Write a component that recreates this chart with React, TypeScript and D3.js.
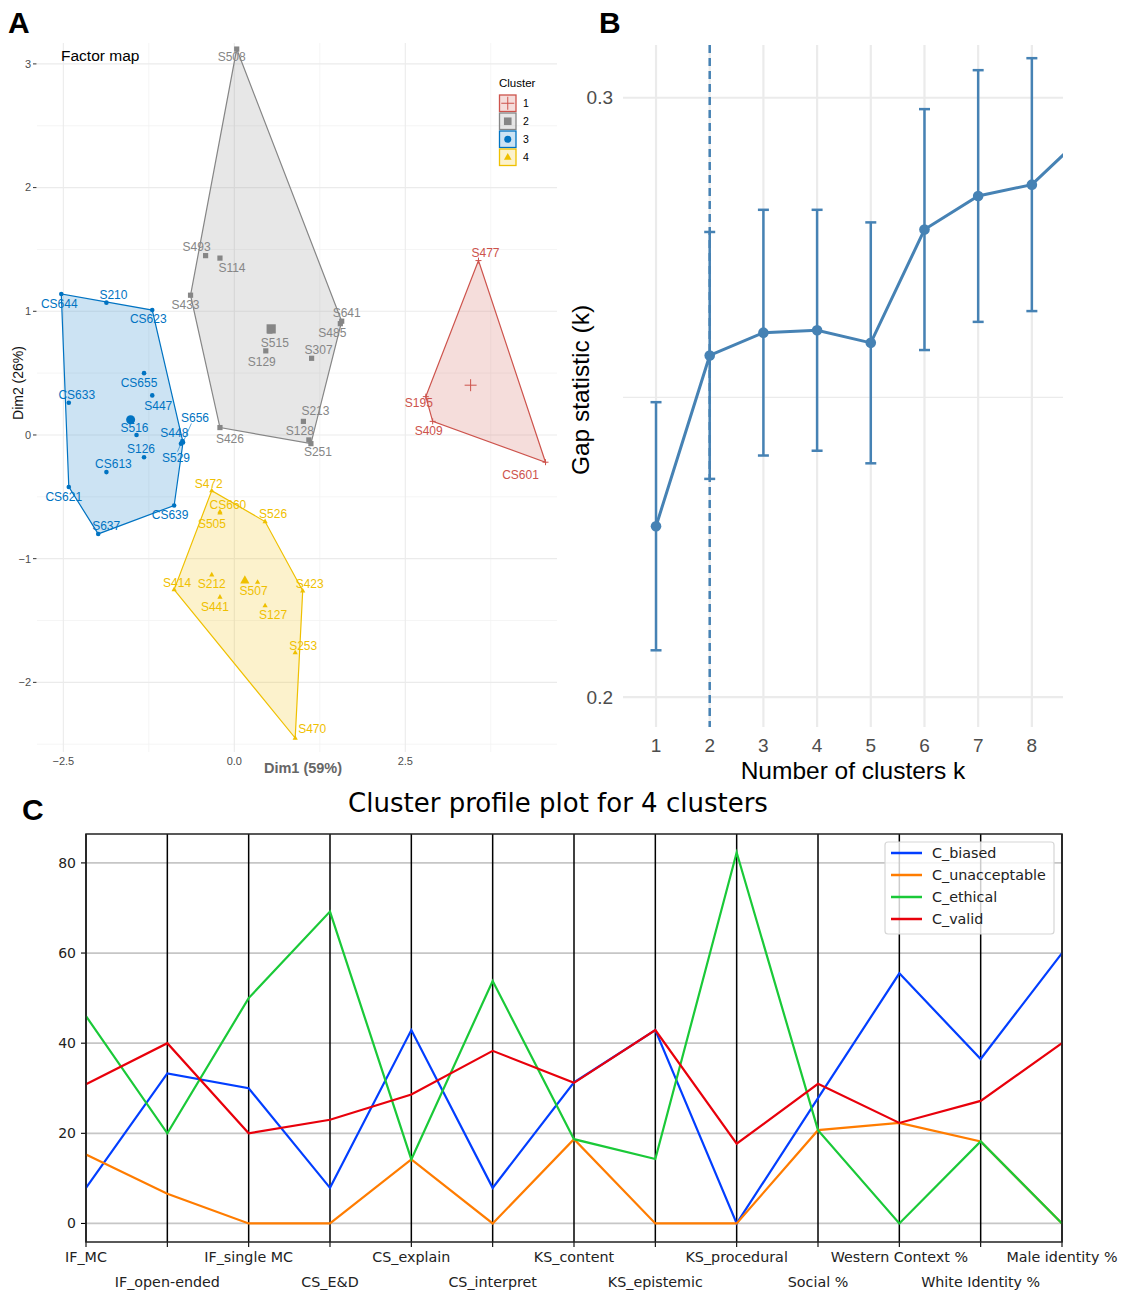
import React from 'react';
import * as d3 from 'd3';

// ---------- Panel A: factor map (PCA individuals, k-means clusters) ----------
const clusterIds = ['1', '2', '3', '4'];
const clusterColors = ['#CD534C', '#868686', '#0073C2', '#EFC000'];
const clusterShapes = ['plus', 'square', 'circle', 'triangle'];

const c1Names = ['S477', 'S195', 'S409', 'CS601'];
const c1Dim1 = [3.57, 2.80, 2.90, 4.55];
const c1Dim2 = [1.41, 0.31, 0.11, -0.22];

const c2Names = ['S508', 'S493', 'S114', 'S433', 'S641', 'S485', 'S515', 'S129', 'S307', 'S213', 'S128', 'S251', 'S426'];
const c2Dim1 = [0.035, -0.42, -0.21, -0.64, 1.57, 1.55, 0.52, 0.46, 1.13, 1.01, 1.09, 1.12, -0.21];
const c2Dim2 = [3.12, 1.45, 1.43, 1.13, 0.92, 0.90, 0.84, 0.68, 0.62, 0.11, -0.04, -0.07, 0.06];

const c3Names = ['CS644', 'S210', 'CS623', 'CS655', 'CS633', 'S447', 'S516', 'S126', 'S656', 'S448', 'S529', 'CS613', 'CS621', 'CS639', 'S637'];
const c3Dim1 = [-2.53, -1.87, -1.20, -1.32, -2.42, -1.20, -1.43, -1.32, -0.75, -0.76, -0.78, -1.87, -2.42, -0.88, -1.99];
const c3Dim2 = [1.14, 1.07, 1.01, 0.50, 0.26, 0.32, 0.00, -0.18, -0.06, -0.05, -0.07, -0.30, -0.42, -0.57, -0.80];

const c4Names = ['S472', 'CS660', 'S505', 'S526', 'S414', 'S212', 'S507', 'S441', 'S127', 'S423', 'S253', 'S470'];
const c4Dim1 = [-0.33, -0.21, -0.21, 0.45, -0.88, -0.33, 0.34, -0.21, 0.45, 1.00, 0.89, 0.89];
const c4Dim2 = [-0.45, -0.62, -0.63, -0.70, -1.25, -1.13, -1.19, -1.31, -1.38, -1.26, -1.76, -2.45];

const dim1Ticks = [-2.5, 0, 2.5];
const dim2Ticks = [-2, -1, 0, 1, 2, 3];

// label placement (pixel nudges from each point, as a repel step would give)
const labelNudge: Record<string, [number, number]> = {
  S477: [7, -8], S195: [-7, 6], S409: [-4, 9], CS601: [-25, 13],
  S508: [-5, 8], S493: [-9, -9], S114: [12, 10], S433: [-5, 10], S641: [5, -8], S485: [-8, 9],
  S515: [5, 12], S129: [-4, 11], S307: [7, -8], S213: [12, -11], S128: [-9, -9], S251: [7, 8], S426: [10, 11],
  CS644: [-2, 10], S210: [7, -8], CS623: [-4, 9], CS655: [-5, 10], CS633: [8, -8], S447: [6, 10],
  S516: [-2, -7], S126: [-3, -8], S656: [12, -25], S448: [-8, -8], S529: [-5, 14], CS613: [7, -8],
  CS621: [-5, 10], CS639: [-4, 9], S637: [8, -8],
  S472: [-3, -7], CS660: [8, -7], S505: [-8, 11], S526: [8, -8], S414: [3, -7], S212: [0, 9],
  S507: [-4, 9], S441: [-5, 10], S127: [8, 9], S423: [7, -7], S253: [8, -7], S470: [17, -9],
};
const leaderLabels = ['S656', 'S529'];

// ---------- Panel B: gap statistic ----------
const gapK = [1, 2, 3, 4, 5, 6, 7, 8, 9];
const gapValues = [0.2285, 0.2570, 0.2608, 0.2612, 0.2591, 0.2780, 0.2836, 0.2855, 0.2940];
const gapSE = [0.0207, 0.0206, 0.0205, 0.0201, 0.0201, 0.0201, 0.0210, 0.0211, 0.0215];
const optimalK = 2;
const gapYTicks = [0.2, 0.3];
const gapXTicks = [1, 2, 3, 4, 5, 6, 7, 8];

// ---------- Panel C: cluster profile (parallel coordinates) ----------
const profileVars = ['IF_MC', 'IF_open-ended', 'IF_single MC', 'CS_E&D', 'CS_explain', 'CS_interpret',
  'KS_content', 'KS_epistemic', 'KS_procedural', 'Social %', 'Western Context %', 'White Identity %', 'Male identity %'];
const profileNames = ['C_biased', 'C_unacceptable', 'C_ethical', 'C_valid'];
const profileColors = ['#023eff', '#ff7c00', '#1ac938', '#e8000b'];
const biased = [7.9, 33.3, 30.0, 7.9, 42.9, 7.9, 31.3, 42.9, 0, 27.8, 55.5, 36.5, 60.0];
const unacceptable = [15.3, 6.6, 0, 0, 14.2, 0, 18.7, 0, 0, 20.7, 22.3, 18.2, 0];
const ethical = [46.0, 20.0, 50.0, 69.2, 14.2, 53.8, 18.7, 14.3, 82.3, 20.7, 0, 18.2, 0];
const valid = [30.9, 40.0, 20.0, 23.0, 28.6, 38.3, 31.2, 42.9, 17.7, 31.0, 22.3, 27.2, 40.0];
const profileYTicks = [0, 20, 40, 60, 80];

const GG = "'Liberation Sans', Arial, Helvetica, sans-serif";
const MPL = "'DejaVu Sans', 'Bitstream Vera Sans', sans-serif";

function Marker({ shape, x, y, s, color }: { shape: string; x: number; y: number; s: number; color: string }) {
  if (shape === 'plus') {
    return <path d={`M${x - s},${y}H${x + s}M${x},${y - s}V${y + s}`} stroke={color} strokeWidth={1} fill="none" />;
  }
  if (shape === 'square') {
    return <rect x={x - s} y={y - s} width={2 * s} height={2 * s} fill={color} />;
  }
  if (shape === 'circle') {
    return <circle cx={x} cy={y} r={s} fill={color} />;
  }
  const h = s * 1.15;
  return <path d={`M${x},${y - h}L${x + s},${y + s * 0.65}L${x - s},${y + s * 0.65}Z`} fill={color} />;
}

function FactorMap() {
  const x = d3.scaleLinear().domain([-2.885, 4.718]).range([37, 557]);
  const y = d3.scaleLinear().domain([-2.563, 3.169]).range([752, 43]);
  const groups = [
    { names: c1Names, d1: c1Dim1, d2: c1Dim2 },
    { names: c2Names, d1: c2Dim1, d2: c2Dim2 },
    { names: c3Names, d1: c3Dim1, d2: c3Dim2 },
    { names: c4Names, d1: c4Dim1, d2: c4Dim2 },
  ];
  const minorX = [-1.25, 1.25, 3.75];
  const minorY = [-2.5, -1.5, -0.5, 0.5, 1.5, 2.5];
  const [x0, x1] = x.range();
  const [y0, y1] = y.range();

  return (
    <g fontFamily={GG}>
      {minorX.map((v) => <line key={'mx' + v} x1={x(v)} x2={x(v)} y1={y1} y2={y0} stroke="#f3f3f3" strokeWidth={0.8} />)}
      {minorY.map((v) => <line key={'my' + v} x1={x0} x2={x1} y1={y(v)} y2={y(v)} stroke="#f3f3f3" strokeWidth={0.8} />)}
      {dim1Ticks.map((v) => <line key={'gx' + v} x1={x(v)} x2={x(v)} y1={y1} y2={y0} stroke="#ebebeb" strokeWidth={1.1} />)}
      {dim2Ticks.map((v) => <line key={'gy' + v} x1={x0} x2={x1} y1={y(v)} y2={y(v)} stroke="#ebebeb" strokeWidth={1.1} />)}

      {dim2Ticks.map((v) => (
        <g key={'ty' + v}>
          <line x1={33} x2={36.5} y1={y(v)} y2={y(v)} stroke="#333" strokeWidth={1} />
          <text x={31} y={y(v)} dy="0.35em" textAnchor="end" fontSize={11} fill="#4d4d4d">{v === 0 ? '0' : String(v).replace('-', '\u2212')}</text>
        </g>
      ))}
      {dim1Ticks.map((v) => (
        <text key={'tx' + v} x={x(v)} y={761} dy="0.35em" textAnchor="middle" fontSize={11} fill="#4d4d4d">
          {d3.format('.1f')(v).replace('-', '\u2212')}
        </text>
      ))}
      <text x={303} y={768} dy="0.35em" textAnchor="middle" fontSize={14.5} fontWeight="bold" fill="#666">Dim1 (59%)</text>
      <text transform="translate(18,383) rotate(-90)" dy="0.35em" textAnchor="middle" fontSize={14} fill="#111">Dim2 (26%)</text>
      <text x={61} y={56} dy="0.35em" fontSize={15.5} fill="#000">Factor map</text>

      {groups.map((g, gi) => {
        const pts: [number, number][] = g.d1.map((v, i) => [x(v), y(g.d2[i])]);
        const hull = d3.polygonHull(pts) || pts;
        return (
          <path key={'hull' + gi} d={'M' + hull.map((p) => p.join(',')).join('L') + 'Z'}
            fill={clusterColors[gi]} fillOpacity={0.2} stroke={clusterColors[gi]} strokeWidth={1.2} />
        );
      })}

      {groups.map((g, gi) => {
        const col = clusterColors[gi];
        const shape = clusterShapes[gi];
        const cx = x(d3.mean(g.d1) as number);
        const cy = y(d3.mean(g.d2) as number);
        const small = shape === 'circle' ? 2.3 : shape === 'plus' ? 3 : 2.6;
        const big = shape === 'circle' ? 4.5 : shape === 'plus' ? 6 : 4.6;
        return (
          <g key={'pts' + gi}>
            {g.names.map((n, i) => {
              const px = x(g.d1[i]);
              const py = y(g.d2[i]);
              const [dx, dy] = labelNudge[n] || [0, -8];
              const lx = px + dx;
              const ly = py + dy;
              return (
                <g key={n}>
                  {leaderLabels.includes(n) && (
                    <line x1={px} y1={py} x2={lx - dx * 0.3} y2={ly + (dy < 0 ? 6 : -6)} stroke={col} strokeWidth={0.6} />
                  )}
                  <Marker shape={shape} x={px} y={py} s={small} color={col} />
                  <text x={lx} y={ly} dy="0.35em" textAnchor="middle" fontSize={12} fill={col}>{n}</text>
                </g>
              );
            })}
            <Marker shape={shape} x={cx} y={cy} s={big} color={col} />
          </g>
        );
      })}

      <text x={499} y={83} dy="0.35em" fontSize={11.5} fill="#000">Cluster</text>
      {clusterIds.map((id, i) => {
        const ky = 95 + i * 18;
        const col = clusterColors[i];
        return (
          <g key={'leg' + id}>
            <rect x={499.5} y={ky} width={16.5} height={16.5} fill={col} fillOpacity={0.2} stroke={col} strokeWidth={1.3} />
            <Marker shape={clusterShapes[i]} x={507.75} y={ky + 8.25} s={clusterShapes[i] === 'plus' ? 6.5 : clusterShapes[i] === 'circle' ? 3.5 : 3.8} color={col} />
            <text x={523} y={ky + 8.25} dy="0.35em" fontSize={10.5} fill="#000">{id}</text>
          </g>
        );
      })}
    </g>
  );
}

function GapPlot() {
  const x = d3.scaleLinear().domain([0.385, 8.58]).range([623, 1063]);
  const y = d3.scaleLinear().domain([0.195, 0.3088]).range([727, 45]);
  const steel = '#4682B4';
  const [x0, x1] = x.range();
  const [y0, y1] = y.range();
  const line = d3.line<number>().x((_, i) => x(gapK[i])).y((v) => y(v));
  return (
    <g fontFamily={GG}>
      <defs>
        <clipPath id="gap-clip"><rect x={x0} y={y1 - 2} width={x1 - x0} height={y0 - y1 + 4} /></clipPath>
      </defs>
      <line x1={x0} x2={x1} y1={y(0.25)} y2={y(0.25)} stroke="#ebebeb" strokeWidth={1.1} />
      {gapYTicks.map((v) => <line key={'gy' + v} x1={x0} x2={x1} y1={y(v)} y2={y(v)} stroke="#ebebeb" strokeWidth={2.2} />)}
      {gapXTicks.map((v) => <line key={'gx' + v} x1={x(v)} x2={x(v)} y1={y1} y2={y0} stroke="#ebebeb" strokeWidth={2.2} />)}
      {gapYTicks.map((v) => (
        <text key={'ty' + v} x={613} y={y(v)} dy="0.35em" textAnchor="end" fontSize={19} fill="#4d4d4d">{String(v)}</text>
      ))}
      {gapXTicks.map((v) => (
        <text key={'tx' + v} x={x(v)} y={745} dy="0.35em" textAnchor="middle" fontSize={19} fill="#4d4d4d">{v}</text>
      ))}
      <text x={853} y={770} dy="0.35em" textAnchor="middle" fontSize={24.5} fill="#000">Number of clusters k</text>
      <text transform="translate(580,390) rotate(-90)" dy="0.35em" textAnchor="middle" fontSize={24.5} fill="#000">Gap statistic (k)</text>
      <g clipPath="url(#gap-clip)">
        <line x1={x(optimalK)} x2={x(optimalK)} y1={y1} y2={y0} stroke={steel} strokeWidth={2.5} strokeDasharray="8,5" />
        {gapK.map((k, i) => (
          <g key={'eb' + k} stroke={steel} strokeWidth={2.5}>
            <line x1={x(k)} x2={x(k)} y1={y(gapValues[i] - gapSE[i])} y2={y(gapValues[i] + gapSE[i])} />
            <line x1={x(k) - 5.5} x2={x(k) + 5.5} y1={y(gapValues[i] - gapSE[i])} y2={y(gapValues[i] - gapSE[i])} />
            <line x1={x(k) - 5.5} x2={x(k) + 5.5} y1={y(gapValues[i] + gapSE[i])} y2={y(gapValues[i] + gapSE[i])} />
          </g>
        ))}
        <path d={line(gapValues) || ''} fill="none" stroke={steel} strokeWidth={3} />
        {gapK.map((k, i) => <circle key={'pt' + k} cx={x(k)} cy={y(gapValues[i])} r={5.3} fill={steel} />)}
      </g>
    </g>
  );
}

function ProfilePlot() {
  const x = d3.scalePoint<string>().domain(profileVars).range([86, 1062]);
  const all = [biased, unacceptable, ethical, valid];
  const lo = d3.min(all.flat()) as number;
  const hi = d3.max(all.flat()) as number;
  const pad = (hi - lo) * 0.05;
  const y = d3.scaleLinear().domain([lo - pad, hi + pad]).range([1242, 834]);
  const line = d3.line<number>().x((_, i) => x(profileVars[i]) as number).y((v) => y(v));
  return (
    <g fontFamily={MPL}>
      <text x={558} y={803} dy="0.35em" textAnchor="middle" fontSize={26} fill="#000">Cluster profile plot for 4 clusters</text>
      {profileYTicks.map((v) => (
        <g key={'gy' + v}>
          <line x1={86} x2={1062} y1={y(v)} y2={y(v)} stroke="#c6c6c6" strokeWidth={1.8} />
          <line x1={81} x2={86} y1={y(v)} y2={y(v)} stroke="#000" strokeWidth={1.1} />
          <text x={76} y={y(v)} dy="0.35em" textAnchor="end" fontSize={14} fill="#222">{v}</text>
        </g>
      ))}
      {profileVars.map((v, i) => (
        <g key={'ax' + v}>
          <line x1={x(v)} x2={x(v)} y1={834} y2={1242} stroke="#000" strokeWidth={1.5} />
          <line x1={x(v)} x2={x(v)} y1={1242} y2={1247} stroke="#000" strokeWidth={1.1} />
          <text x={x(v)} y={i % 2 === 0 ? 1257 : 1282} dy="0.35em" textAnchor="middle" fontSize={14.3} fill="#222">{v}</text>
        </g>
      ))}
      {all.map((vals, i) => (
        <path key={profileNames[i]} d={line(vals) || ''} fill="none" stroke={profileColors[i]} strokeWidth={2.2} />
      ))}
      <rect x={86} y={834} width={976} height={408} fill="none" stroke="#222" strokeWidth={1.5} />
      <rect x={885} y={842} width={169} height={92} rx={3} fill="#fff" fillOpacity={0.8} stroke="#d6d6d6" strokeWidth={1.2} />
      {profileNames.map((n, i) => (
        <g key={'lg' + n}>
          <line x1={891} x2={922} y1={853 + i * 22} y2={853 + i * 22} stroke={profileColors[i]} strokeWidth={2.5} />
          <text x={932} y={853 + i * 22} dy="0.35em" fontSize={14.3} fill="#222">{n}</text>
        </g>
      ))}
    </g>
  );
}

export default function App() {
  return (
    <svg width={1123} height={1292} viewBox="0 0 1123 1292"
      style={{ position: 'absolute', left: 0, top: 0, background: '#fff' }}>
      <rect width={1123} height={1292} fill="#fff" />
      <FactorMap />
      <GapPlot />
      <ProfilePlot />
      <g fontFamily={GG} fontWeight={900} fontSize={30} fill="#000">
        <text x={8} y={33}>A</text>
        <text x={599} y={33}>B</text>
        <text x={22} y={820}>C</text>
      </g>
    </svg>
  );
}
